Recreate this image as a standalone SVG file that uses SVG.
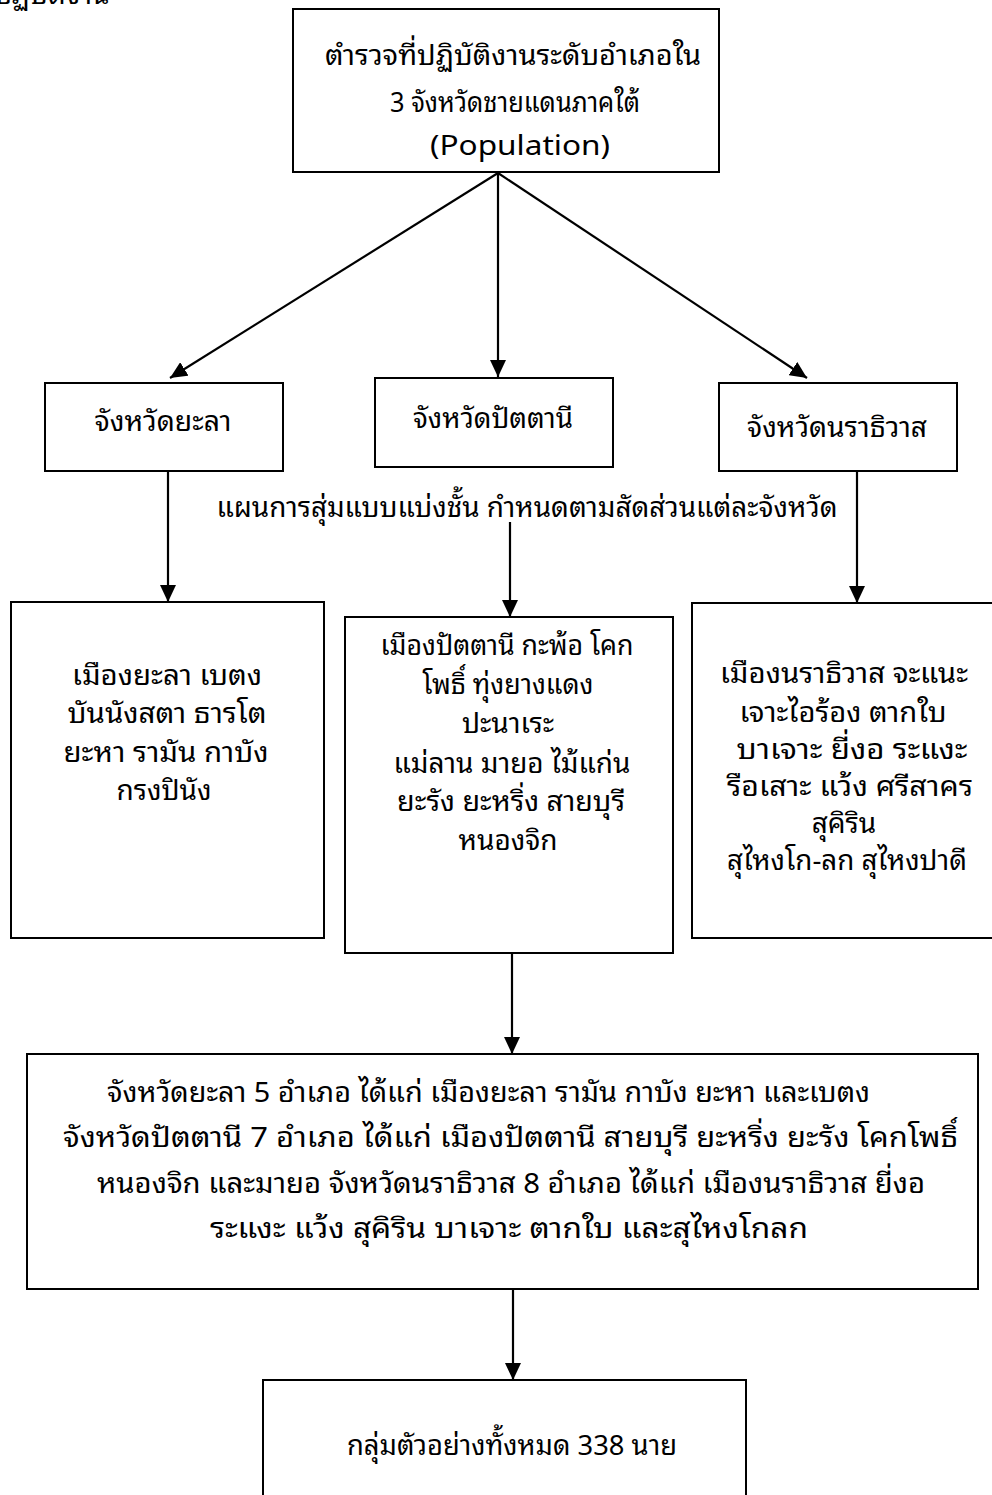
<svg xmlns="http://www.w3.org/2000/svg" width="992" height="1495" viewBox="0 0 992 1495">
<defs>
<style>
.box{fill:#fff;stroke:#000;stroke-width:2}
.t{font-family:"Noto Sans Thai Looped","Noto Sans Thai","Noto Sans","DejaVu Sans",sans-serif;font-size:28px;fill:#000;text-anchor:middle}
.tl{font-family:"Noto Sans Thai Looped","Noto Sans Thai","Noto Sans","DejaVu Sans",sans-serif;font-size:28px;fill:#000}
.c{stroke:#000;stroke-width:2.2;fill:none;marker-end:url(#ah)}
</style>
<marker id="ah" markerUnits="userSpaceOnUse" markerWidth="18" markerHeight="16" refX="17" refY="8" orient="auto">
<path d="M0,0 L17,8 L0,16 z" fill="#000"/>
</marker>
</defs>
<rect width="992" height="1495" fill="#fff"/>
<text class="tl" x="-6" y="4">ปฏิบัติงาน</text>
<g id="connectors">
<path class="c" d="M498,173 L170,378"/>
<path class="c" d="M498,173 L498,377"/>
<path class="c" d="M498,173 L807,378"/>
<path class="c" d="M168,471 L168,602"/>
<path class="c" d="M510,522 L510,617"/>
<path class="c" d="M857,471 L857,603"/>
<path class="c" d="M512,953 L512,1054"/>
<path class="c" d="M513,1289 L513,1380"/>
</g>
<g id="population">
<rect class="box" x="293" y="9" width="426" height="163"/>
<text class="t" x="513" y="65" textLength="376" lengthAdjust="spacingAndGlyphs">ตำรวจที่ปฏิบัติงานระดับอำเภอใน</text>
<text class="t" x="515" y="112" textLength="250" lengthAdjust="spacingAndGlyphs">3 จังหวัดชายแดนภาคใต้</text>
<text class="t" x="520" y="155" textLength="180" lengthAdjust="spacingAndGlyphs">(Population)</text>
</g>
<g id="yala">
<rect class="box" x="45" y="383" width="238" height="88"/>
<text class="t" x="163" y="431" textLength="137" lengthAdjust="spacingAndGlyphs">จังหวัดยะลา</text>
</g>
<g id="pattani">
<rect class="box" x="375" y="378" width="238" height="89"/>
<text class="t" x="493" y="428" textLength="160" lengthAdjust="spacingAndGlyphs">จังหวัดปัตตานี</text>
</g>
<g id="narathiwat">
<rect class="box" x="719" y="383" width="238" height="88"/>
<text class="t" x="837" y="437" textLength="180" lengthAdjust="spacingAndGlyphs">จังหวัดนราธิวาส</text>
</g>
<g id="sampling-label">
<text class="t" x="527" y="517" textLength="621" lengthAdjust="spacingAndGlyphs">แผนการสุ่มแบบแบ่งชั้น กำหนดตามสัดส่วนแต่ละจังหวัด</text>
</g>
<g id="yala-districts">
<rect class="box" x="11" y="602" width="313" height="336"/>
<text class="t" x="167" y="685" textLength="190" lengthAdjust="spacingAndGlyphs">เมืองยะลา  เบตง</text>
<text class="t" x="167" y="723" textLength="199" lengthAdjust="spacingAndGlyphs">บันนังสตา  ธารโต</text>
<text class="t" x="166" y="762" textLength="205" lengthAdjust="spacingAndGlyphs">ยะหา รามัน กาบัง</text>
<text class="t" x="164" y="800">กรงปินัง</text>
</g>
<g id="pattani-districts">
<rect class="box" x="345" y="617" width="328" height="336"/>
<text class="t" x="507" y="655" textLength="253" lengthAdjust="spacingAndGlyphs">เมืองปัตตานี  กะพ้อ โคก</text>
<text class="t" x="508" y="694" textLength="171" lengthAdjust="spacingAndGlyphs">โพธิ์  ทุ่งยางแดง</text>
<text class="t" x="508" y="733">ปะนาเระ</text>
<text class="t" x="512" y="773" textLength="237" lengthAdjust="spacingAndGlyphs">แม่ลาน  มายอ ไม้แก่น</text>
<text class="t" x="511" y="811" textLength="228" lengthAdjust="spacingAndGlyphs">ยะรัง  ยะหริ่ง สายบุรี</text>
<text class="t" x="508" y="850">หนองจิก</text>
</g>
<g id="narathiwat-districts">
<rect class="box" x="692" y="603" width="306" height="335"/>
<text class="t" x="844" y="683" textLength="248" lengthAdjust="spacingAndGlyphs">เมืองนราธิวาส  จะแนะ</text>
<text class="t" x="843" y="722" textLength="207" lengthAdjust="spacingAndGlyphs">เจาะไอร้อง ตากใบ</text>
<text class="t" x="852" y="759" textLength="231" lengthAdjust="spacingAndGlyphs">บาเจาะ ยี่งอ  ระแงะ</text>
<text class="t" x="850" y="796" textLength="246" lengthAdjust="spacingAndGlyphs">รือเสาะ  แว้ง  ศรีสาคร</text>
<text class="t" x="844" y="833">สุคิริน</text>
<text class="t" x="847" y="870" textLength="240" lengthAdjust="spacingAndGlyphs">สุไหงโก-ลก สุไหงปาดี</text>
</g>
<g id="summary">
<rect class="box" x="27" y="1054" width="951" height="235"/>
<text class="tl" x="107" y="1102" textLength="763" lengthAdjust="spacingAndGlyphs">จังหวัดยะลา 5  อำเภอ ได้แก่ เมืองยะลา  รามัน  กาบัง  ยะหา และเบตง</text>
<text class="tl" x="63" y="1147" textLength="895" lengthAdjust="spacingAndGlyphs">จังหวัดปัตตานี 7 อำเภอ ได้แก่ เมืองปัตตานี  สายบุรี  ยะหริ่ง  ยะรัง  โคกโพธิ์</text>
<text class="tl" x="97" y="1193" textLength="828" lengthAdjust="spacingAndGlyphs">หนองจิก  และมายอ  จังหวัดนราธิวาส 8 อำเภอ ได้แก่ เมืองนราธิวาส  ยี่งอ</text>
<text class="tl" x="210" y="1238" textLength="598" lengthAdjust="spacingAndGlyphs">ระแงะ  แว้ง  สุคิริน  บาเจาะ  ตากใบ  และสุไหงโกลก</text>
</g>
<g id="sample">
<rect class="box" x="263" y="1380" width="483" height="130"/>
<text class="t" x="512" y="1455" textLength="330" lengthAdjust="spacingAndGlyphs">กลุ่มตัวอย่างทั้งหมด 338 นาย</text>
</g>
</svg>
